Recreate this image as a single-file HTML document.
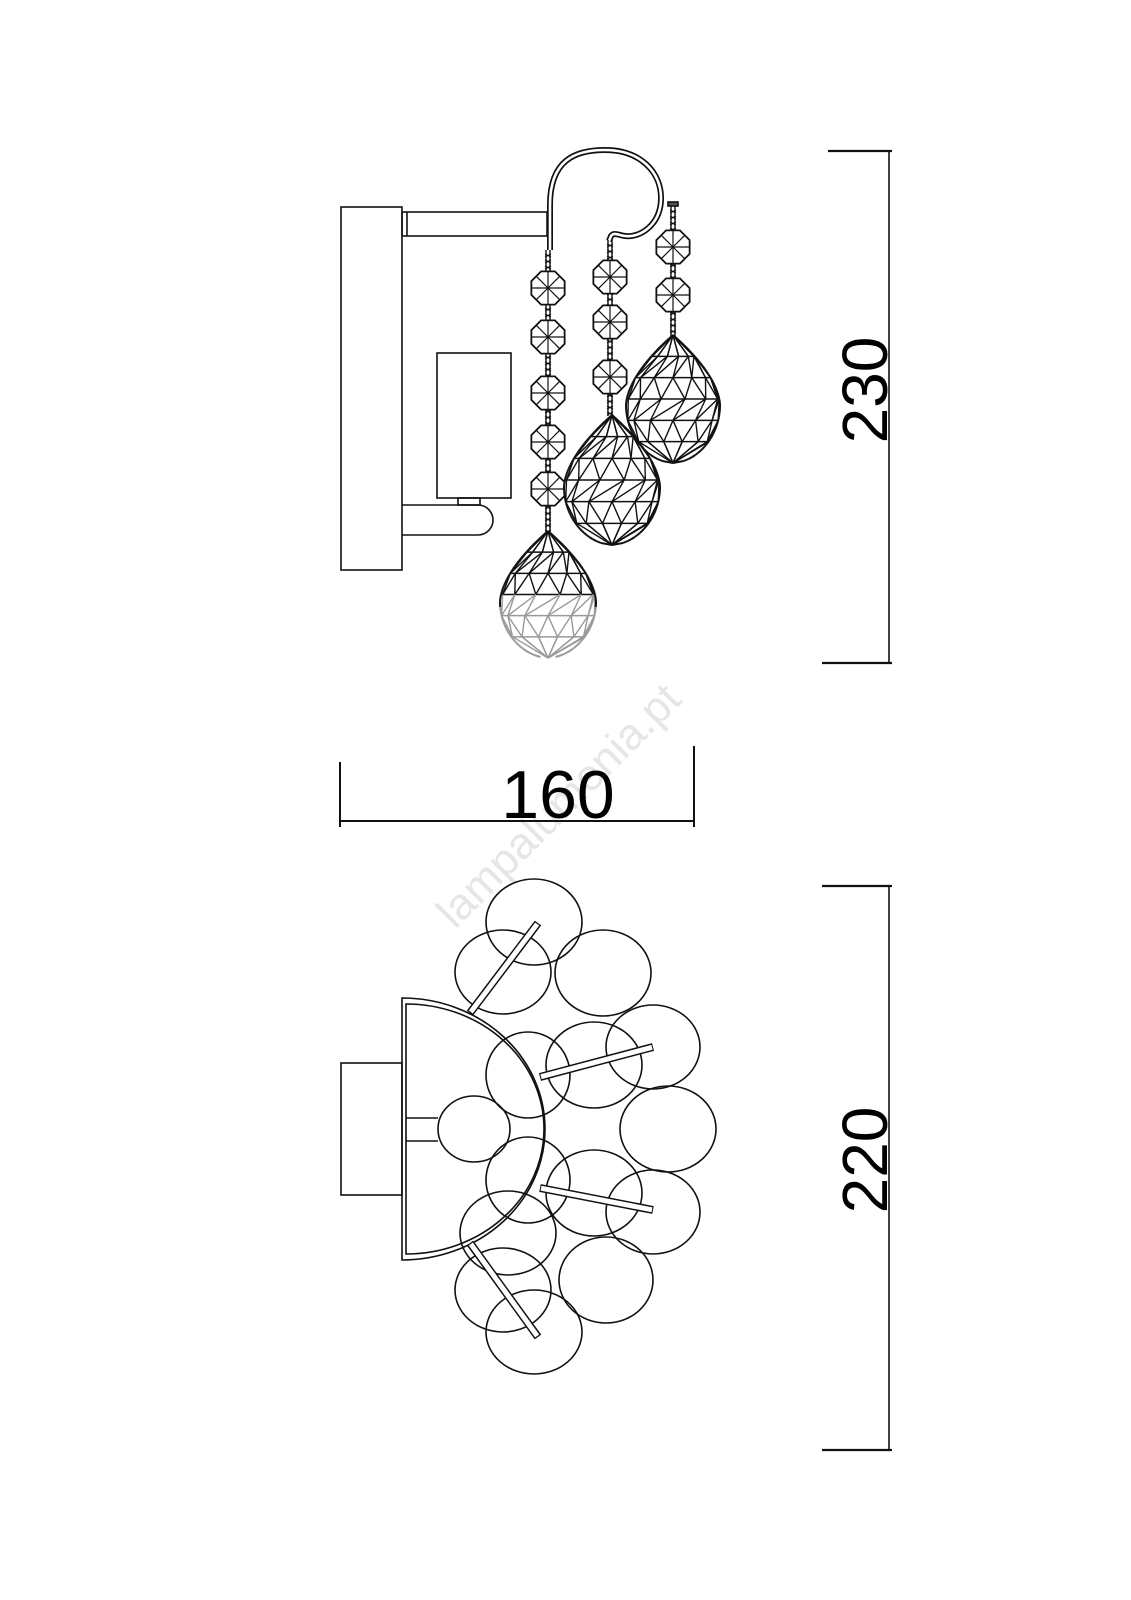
<!DOCTYPE html>
<html><head><meta charset="utf-8"><style>
html,body{margin:0;padding:0;background:#fff;}
svg{display:block;}
text{font-family:"Liberation Sans",sans-serif;}
</style></head><body>
<svg id="s" width="1131" height="1600" viewBox="0 0 1131 1600" xmlns="http://www.w3.org/2000/svg">
<rect width="1131" height="1600" fill="#fff"/>
<text x="0" y="0" transform="translate(455,930) rotate(-45)" font-size="44" fill="#e6e6e6">lampalumenia.pt</text>
<g fill="none" stroke="#111" stroke-width="1.6">
<line x1="828" y1="151" x2="892" y2="151" stroke-width="2.2"/>
<line x1="822" y1="663" x2="892" y2="663" stroke-width="2.2"/>
<line x1="889" y1="151" x2="889" y2="663"/>
<line x1="340" y1="821" x2="694" y2="821" stroke-width="2"/>
<line x1="340" y1="762" x2="340" y2="827" stroke-width="2"/>
<line x1="694" y1="746" x2="694" y2="827" stroke-width="2"/>
<line x1="822" y1="886" x2="892" y2="886" stroke-width="2.2"/>
<line x1="822" y1="1450" x2="892" y2="1450" stroke-width="2.2"/>
<line x1="889" y1="886" x2="889" y2="1450"/>

<rect x="341" y="207" width="61" height="363"/>
<rect x="402" y="212" width="145" height="24"/>
<line x1="407" y1="212" x2="407" y2="236"/>
<rect x="437" y="353" width="74" height="145"/>
<path d="M402 505 L478 505 A15 15 0 0 1 478 535 L402 535"/>
<rect x="458" y="498" width="22" height="7"/>
<path d="M550 250 L550 205 C550 160 575 150 605 150 C640 150 662 172 661 200 C660 225 640 238 625 236 C618 235 614 232 611 236 L609 241" stroke-width="6"/>
<path d="M550 250 L550 205 C550 160 575 150 605 150 C640 150 662 172 661 200 C660 225 640 238 625 236 C618 235 614 232 611 236 L609 241" stroke="#fff" stroke-width="2.6"/>
<rect x="668" y="202" width="10" height="4" fill="#555"/>
<g id="chains"></g>
<g id="crys"></g>

<rect x="341" y="1063" width="61" height="132"/>
<path d="M402 998 A143 131 0 0 1 402 1260 Z"/>
<path d="M406 1004 A138 125 0 0 1 406 1254 Z"/>
<line x1="406" y1="1118" x2="438" y2="1118"/>
<line x1="406" y1="1141" x2="438" y2="1141"/>
<ellipse cx="534" cy="922" rx="48" ry="43"/>
<ellipse cx="503" cy="972" rx="48" ry="42"/>
<ellipse cx="603" cy="973" rx="48" ry="43"/>
<ellipse cx="653" cy="1047" rx="47" ry="42"/>
<ellipse cx="528" cy="1075" rx="42" ry="43"/>
<ellipse cx="594" cy="1065" rx="48" ry="43"/>
<ellipse cx="474" cy="1129" rx="36" ry="33"/>
<ellipse cx="668" cy="1129" rx="48" ry="43"/>
<ellipse cx="528" cy="1180" rx="42" ry="43"/>
<ellipse cx="594" cy="1193" rx="48" ry="43"/>
<ellipse cx="653" cy="1212" rx="47" ry="42"/>
<ellipse cx="508" cy="1233" rx="48" ry="42"/>
<ellipse cx="606" cy="1280" rx="47" ry="43"/>
<ellipse cx="503" cy="1290" rx="48" ry="42"/>
<ellipse cx="534" cy="1332" rx="48" ry="42"/>
<g stroke-linecap="butt">
<line x1="470" y1="1013" x2="538" y2="923" stroke-width="8"/>
<line x1="540" y1="1077" x2="653" y2="1047" stroke-width="8"/>
<line x1="540" y1="1188" x2="653" y2="1210" stroke-width="8"/>
<line x1="470" y1="1243" x2="538" y2="1337" stroke-width="8"/>
</g>
<g stroke="#fff" stroke-width="5">
<line x1="470.8" y1="1012" x2="537.2" y2="924"/>
<line x1="541" y1="1076.7" x2="652" y2="1047.3"/>
<line x1="541" y1="1188.2" x2="652" y2="1209.8"/>
<line x1="470.8" y1="1244" x2="537.2" y2="1336"/>
</g>
</g>
<text x="558" y="818" font-size="68" text-anchor="middle" fill="#000">160</text>
<text transform="translate(887,390) rotate(-90)" font-size="64" text-anchor="middle" fill="#000">230</text>
<text transform="translate(887,1160) rotate(-90)" font-size="64" text-anchor="middle" fill="#000">220</text>
</svg>
<script>
(function(){
var NS="http://www.w3.org/2000/svg";
function el(p,n,a){var e=document.createElementNS(NS,n);for(var k in a)e.setAttribute(k,a[k]);p.appendChild(e);return e;}
var ch=document.getElementById("chains"),cr=document.getElementById("crys");
function chain(x,y0,y1,octs){
  el(ch,"line",{x1:x-2,y1:y0,x2:x-2,y2:y1,"stroke-width":1.4});
  el(ch,"line",{x1:x+2,y1:y0,x2:x+2,y2:y1,"stroke-width":1.4});
  for(var y=y0+4;y<y1;y+=6){el(ch,"line",{x1:x-3,y1:y,x2:x+3,y2:y+3,"stroke-width":1.2});el(ch,"line",{x1:x+3,y1:y,x2:x-3,y2:y+3,"stroke-width":1.2});}
  octs.forEach(function(cy){
    var r=18,pts=[],i;
    for(i=0;i<8;i++){var a=Math.PI/8+i*Math.PI/4;pts.push([x+r*Math.cos(a),cy+r*Math.sin(a)]);}
    el(ch,"polygon",{points:pts.map(function(p){return p.join(",")}).join(" "),fill:"#fff","stroke-width":1.8});
    for(i=0;i<8;i++){var a2=i*Math.PI/4;el(ch,"line",{x1:x,y1:cy,x2:x+r*0.93*Math.cos(a2),y2:cy+r*0.93*Math.sin(a2),"stroke-width":1.2});}
  });
}
chain(548,250,532,[288,337,393,442,489]);
chain(610,240,416,[277,322,377]);
chain(673,206,336,[247,295]);
function crystal(cx,y0,y1,y2,W,grayFrom){
  function w(y){ if(y<=y1){var t=(y-y0)/(y1-y0);return W*(1-Math.pow(1-t,1.7));} var t2=(y-y1)/(y2-y1);return W*Math.pow(Math.max(0,1-t2*t2),0.55);}
  var rows=6,ys=[],i,j;
  for(i=0;i<=rows;i++)ys.push(y0+(y2-y0)*i/rows);
  var N=6;
  function pt(i,k){var y=ys[i];var off=(i%2)*0.5;var th=-Math.PI/2+Math.PI*(k+off)/N;if(th>Math.PI/2)th=Math.PI/2;if(th<-Math.PI/2)th=-Math.PI/2;return [cx+w(y)*Math.sin(th),y];}
  function col(y){return (grayFrom&&y>grayFrom)?"#9a9a9a":"#111";}
  var L=[],R=[];
  for(var y=y0;y<=y2+0.01;y+=2){L.push([cx-w(y),y]);R.unshift([cx+w(y),y]);}
  var all=L.concat(R);
  el(cr,"polygon",{points:all.map(function(p){return p[0].toFixed(1)+","+p[1].toFixed(1)}).join(" "),fill:"#fff",stroke:"none"});
  for(i=1;i<rows;i++){
    var yy=ys[i];
    el(cr,"line",{x1:cx-w(yy),y1:yy,x2:cx+w(yy),y2:yy,stroke:col(yy),"stroke-width":1.5});
  }
  for(i=0;i<rows;i++){
    var yA=ys[i],yB=ys[i+1],c=col((yA+yB)/2);
    for(j=0;j<=N;j++){
      var a=pt(i,j),b1=pt(i+1,j),b0=pt(i+1,j-1);
      if(i===0){a=[cx,y0];}
      if(i===rows-1){b1=[cx,y2];b0=[cx,y2];}
      el(cr,"line",{x1:a[0],y1:a[1],x2:b1[0],y2:b1[1],stroke:c,"stroke-width":1.4});
      if(j>0)el(cr,"line",{x1:a[0],y1:a[1],x2:b0[0],y2:b0[1],stroke:c,"stroke-width":1.4});
    }
  }
  for(var s=0;s<2;s++){
    var P=s?R.slice().reverse():L;
    for(i=0;i<P.length-1;i++){el(cr,"line",{x1:P[i][0],y1:P[i][1],x2:P[i+1][0],y2:P[i+1][1],stroke:col(P[i][1]),"stroke-width":2});}
  }
}
crystal(673,335,405,463,47,0);
crystal(612,415,487,545,48,0);
crystal(548,531,602,658,48,605);
})();
</script>
</body></html>
